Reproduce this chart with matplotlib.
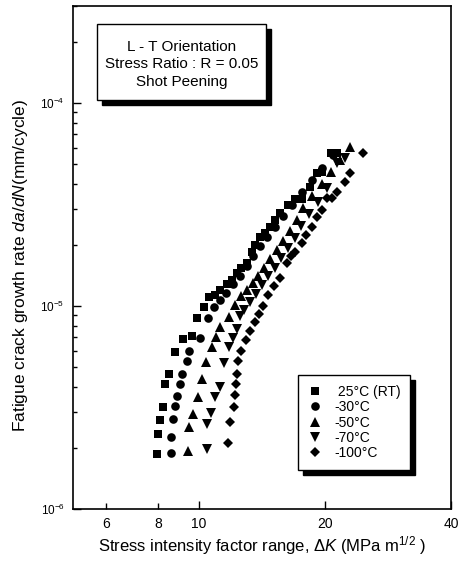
import matplotlib
matplotlib.use('Agg')
import matplotlib.pyplot as plt
from matplotlib.patches import Rectangle
from matplotlib.ticker import FixedLocator, FixedFormatter, LogLocator, NullFormatter

plt.rcParams['font.family'] = ['Liberation Sans', 'DejaVu Sans']
plt.rcParams['mathtext.fontset'] = 'custom'
plt.rcParams['mathtext.rm'] = 'Liberation Sans'
plt.rcParams['mathtext.it'] = 'Liberation Sans:italic'
plt.rcParams['mathtext.bf'] = 'Liberation Sans:bold'

# ---------------- data ----------------
rt_dk = [7.92, 7.99, 8.08, 8.20, 8.29, 8.49, 8.78, 9.14, 9.61, 9.91, 10.30, 10.58, 10.92,
         11.22, 11.69, 11.99, 12.30, 12.60, 13.00, 13.36, 13.61, 13.99, 14.38, 14.78,
         15.19, 15.62, 16.32, 16.96, 17.62, 18.42, 19.14, 19.67, 20.67, 21.37]
rt_rate = [1.86e-6, 2.35e-6, 2.74e-6, 3.19e-6, 4.12e-6, 4.61e-6, 5.95e-6, 6.85e-6, 7.11e-6,
           8.70e-6, 9.85e-6, 1.111e-5, 1.133e-5, 1.199e-5, 1.283e-5, 1.343e-5, 1.459e-5,
           1.539e-5, 1.622e-5, 1.851e-5, 1.998e-5, 2.194e-5, 2.289e-5, 2.458e-5, 2.652e-5,
           2.862e-5, 3.145e-5, 3.354e-5, 3.37e-5, 3.86e-5, 4.52e-5, 4.57e-5, 5.67e-5, 5.67e-5]

m30_dk = [8.55, 8.57, 8.68, 8.76, 8.84, 9.03, 9.13, 9.34, 9.49, 10.08, 10.52, 10.89, 11.22,
          11.60, 12.06, 12.53, 13.02, 13.46, 13.99, 14.54, 15.19, 15.88, 16.68, 17.62,
          18.62, 19.67, 20.89]
m30_rate = [1.88e-6, 2.25e-6, 2.76e-6, 3.20e-6, 3.62e-6, 4.12e-6, 4.61e-6, 5.36e-6, 6.00e-6,
            6.99e-6, 8.70e-6, 9.89e-6, 1.071e-5, 1.159e-5, 1.283e-5, 1.406e-5, 1.574e-5,
            1.763e-5, 1.975e-5, 2.188e-5, 2.449e-5, 2.775e-5, 3.145e-5, 3.645e-5, 4.18e-5,
            4.78e-5, 5.54e-5]

m50_dk = [9.43, 9.45, 9.69, 9.96, 10.18, 10.39, 10.72, 10.98, 11.22, 11.78, 12.19, 12.60,
          13.02, 13.46, 13.83, 14.30, 14.78, 15.36, 15.88, 16.50, 17.14, 17.72, 18.62,
          19.67, 20.67, 21.72, 22.95]
m50_rate = [1.93e-6, 2.54e-6, 2.93e-6, 3.57e-6, 4.35e-6, 5.30e-6, 6.30e-6, 7.06e-6, 7.85e-6,
            8.86e-6, 1.012e-5, 1.12e-5, 1.199e-5, 1.298e-5, 1.406e-5, 1.539e-5, 1.704e-5,
            1.888e-5, 2.091e-5, 2.342e-5, 2.652e-5, 3.04e-5, 3.48e-5, 3.99e-5, 4.57e-5,
            5.24e-5, 6.09e-5]

m70_dk = [10.43, 10.43, 10.68, 10.92, 11.22, 11.47, 11.81, 12.04, 12.30, 12.53, 12.81, 13.24,
          13.68, 14.14, 14.62, 15.19, 15.70, 16.32, 16.96, 17.53, 18.31, 19.24, 20.22,
          21.33, 22.33]
m70_rate = [1.97e-6, 2.61e-6, 2.96e-6, 3.57e-6, 4.00e-6, 5.22e-6, 6.25e-6, 6.93e-6, 7.68e-6,
            8.93e-6, 9.55e-6, 1.046e-5, 1.146e-5, 1.269e-5, 1.406e-5, 1.539e-5, 1.724e-5,
            1.931e-5, 2.163e-5, 2.478e-5, 2.84e-5, 3.25e-5, 3.81e-5, 5.05e-5, 5.36e-5]

m100_dk = [11.70, 11.86, 12.14, 12.19, 12.29, 12.32, 12.41, 12.63, 12.95, 13.24, 13.61, 13.91,
           14.22, 14.64, 15.11, 15.62, 16.20, 16.59, 16.96, 17.60, 18.02, 18.58, 19.10,
           19.64, 20.19, 20.75, 21.33, 22.33, 22.95, 24.60]
m100_rate = [2.11e-6, 2.67e-6, 3.19e-6, 3.64e-6, 4.11e-6, 4.62e-6, 5.33e-6, 5.98e-6, 6.80e-6,
             7.53e-6, 8.34e-6, 9.13e-6, 1.0e-5, 1.133e-5, 1.255e-5, 1.369e-5, 1.622e-5,
             1.763e-5, 1.851e-5, 2.037e-5, 2.238e-5, 2.458e-5, 2.754e-5, 2.97e-5, 3.39e-5,
             3.39e-5, 3.66e-5, 4.09e-5, 4.54e-5, 5.69e-5]

series_labels = [' 25°C (RT)', '-30°C', '-50°C', '-70°C', '-100°C']
series_x = [rt_dk, m30_dk, m50_dk, m70_dk, m100_dk]
series_y = [rt_rate, m30_rate, m50_rate, m70_rate, m100_rate]
markers = ['s', 'o', '^', 'v', 'D']
msizes = [5.8, 6.2, 7.0, 7.0, 5.4]

x_major = [10, 20, 40]
x_major_labels = ['10', '20', '40']
x_minor = [6, 8]
x_minor_labels = ['6', '8']
y_major = [1e-6, 1e-5, 1e-4]
y_major_labels = [r'$10^{-6}$', r'$10^{-5}$', r'$10^{-4}$']

info_lines = ['L - T Orientation', 'Stress Ratio : R = 0.05', 'Shot Peening']

# ---------------- figure ----------------
W, H = 461, 561
fig = plt.figure(figsize=(W / 100, H / 100), dpi=100)
ax = fig.add_axes([73 / W, 1 - 509 / H, (451 - 73) / W, (509 - 6) / H])

for xs, ys, m, ms, lab in zip(series_x, series_y, markers, msizes, series_labels):
    ax.plot(xs, ys, linestyle='none', marker=m, markersize=ms, color='black',
            markeredgewidth=0, label=lab)

ax.set_xscale('log')
ax.set_yscale('log')
ax.set_xlim(5, 40)
ax.set_ylim(1e-6, 3e-4)

ax.xaxis.set_major_locator(FixedLocator(x_major))
ax.xaxis.set_major_formatter(FixedFormatter(x_major_labels))
ax.xaxis.set_minor_locator(FixedLocator(x_minor))
ax.xaxis.set_minor_formatter(FixedFormatter(x_minor_labels))

ax.yaxis.set_major_locator(FixedLocator(y_major))
ax.yaxis.set_major_formatter(FixedFormatter(y_major_labels))
ax.yaxis.set_minor_locator(LogLocator(base=10, subs=(2, 3, 4, 5, 6, 7, 8, 9)))
ax.yaxis.set_minor_formatter(NullFormatter())

ax.tick_params(axis='both', which='both', direction='in', top=False, right=False, width=1.0)
ax.tick_params(axis='x', which='major', length=6, pad=6, labelsize=10)
ax.tick_params(axis='x', which='minor', length=4, pad=6, labelsize=10)
ax.tick_params(axis='y', which='major', length=6, pad=6, labelsize=8.5)
ax.tick_params(axis='y', which='minor', length=3)

for sp in ax.spines.values():
    sp.set_linewidth(1.2)

ax.set_xlabel(r'Stress intensity factor range, $\mathit{\Delta K}$ (MPa m$^{1/2}$ )', fontsize=12)
ax.xaxis.set_label_coords(0.5, -0.05)
ax.set_ylabel(r'Fatigue crack growth rate $\mathit{da/dN}$(mm/cycle)', fontsize=12.5)
ax.yaxis.set_label_coords(-0.115, 0.485)

# ---------------- info box with shadow ----------------
aw, ah = 451 - 73, 509 - 6
bx0, bx1 = (97 - 73) / aw, (266 - 73) / aw
by0, by1 = 1 - (100 - 6) / ah, 1 - (24 - 6) / ah
sdx, sdy = 5 / aw, 5 / ah
ax.add_patch(Rectangle((bx0 + sdx, by0 - sdy), bx1 - bx0, by1 - by0, transform=ax.transAxes,
                       facecolor='black', edgecolor='black', zorder=5))
ax.add_patch(Rectangle((bx0, by0), bx1 - bx0, by1 - by0, transform=ax.transAxes,
                       facecolor='white', edgecolor='black', linewidth=1.0, zorder=6))
cx = (bx0 + bx1) / 2
for i, line in enumerate(info_lines):
    ax.text(cx, 1 - (47 + 17.5 * i - 6) / ah, line, transform=ax.transAxes,
            ha='center', va='center', fontsize=11, zorder=7)

# ---------------- legend with shadow ----------------
leg = ax.legend(loc='upper left', bbox_to_anchor=((298 - 73) / aw, 1 - (375 - 6) / ah),
                borderaxespad=0, frameon=True, fancybox=False, fontsize=10,
                handlelength=1.0, handletextpad=0.9, borderpad=0.7, labelspacing=0.1,
                edgecolor='black', framealpha=1, numpoints=1)
leg.get_frame().set_linewidth(1.0)
leg.set_zorder(8)

fig.canvas.draw()
bb = leg.get_frame().get_window_extent(fig.canvas.get_renderer())
inv = ax.transAxes.inverted()
(lx0, ly0), (lx1, ly1) = inv.transform([[bb.x0, bb.y0], [bb.x1, bb.y1]])
ax.add_patch(Rectangle((lx0 + sdx, ly0 - sdy), lx1 - lx0, ly1 - ly0, transform=ax.transAxes,
                       facecolor='black', edgecolor='black', zorder=7.5, clip_on=False))

fig.savefig('out.png', dpi=100)
